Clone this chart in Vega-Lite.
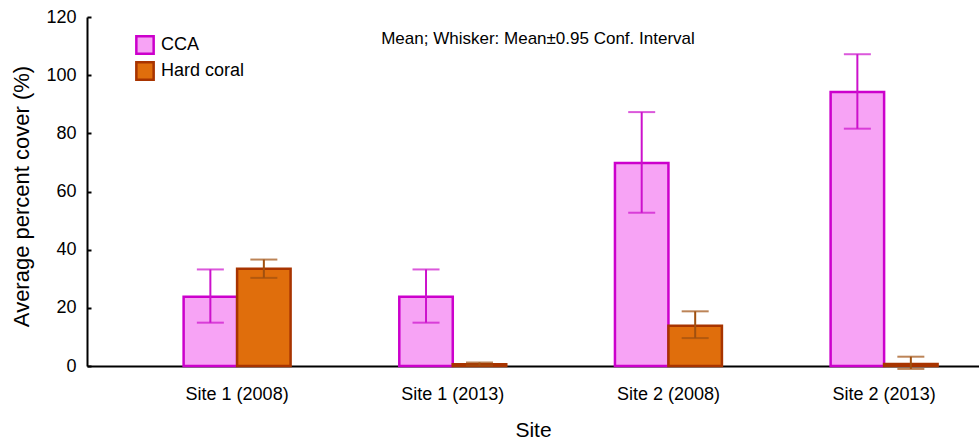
{
  "$schema": "https://vega.github.io/schema/vega-lite/v6.json",
  "width": 892,
  "height": 349,
  "autosize": "none",
  "padding": {"left": 87, "top": 17, "right": 0, "bottom": 75},
  "background": "white",
  "config": {
    "view": {"stroke": null},
    "font": "Liberation Sans",
    "axis": {"grid": false, "domainColor": "black", "domainWidth": 2, "tickColor": "black", "tickWidth": 2, "labelColor": "black", "titleColor": "black", "labelFont": "Liberation Sans", "titleFont": "Liberation Sans"}
  },
  "title": {
    "text": "Mean; Whisker: Mean±0.95 Conf. Interval",
    "orient": "top",
    "anchor": "middle",
    "offset": -40,
    "font": "Liberation Sans",
    "fontSize": 17,
    "fontWeight": "normal",
    "color": "black",
    "dx": 5
  },
  "data": {
    "values": [
      {"site": "Site 1 (2008)", "type": "CCA", "mean": 23.8, "lo": 14.9, "hi": 33.2},
      {"site": "Site 1 (2008)", "type": "Hard coral", "mean": 33.4, "lo": 30.3, "hi": 36.6},
      {"site": "Site 1 (2013)", "type": "CCA", "mean": 23.8, "lo": 14.9, "hi": 33.2},
      {"site": "Site 1 (2013)", "type": "Hard coral", "mean": 0.6, "lo": 0.2, "hi": 1.2},
      {"site": "Site 2 (2008)", "type": "CCA", "mean": 69.8, "lo": 52.7, "hi": 87.3},
      {"site": "Site 2 (2008)", "type": "Hard coral", "mean": 13.8, "lo": 9.6, "hi": 18.8},
      {"site": "Site 2 (2013)", "type": "CCA", "mean": 94.2, "lo": 81.6, "hi": 107.2},
      {"site": "Site 2 (2013)", "type": "Hard coral", "mean": 0.7, "lo": -1.0, "hi": 3.2}
    ]
  },
  "encoding": {
    "x": {
      "field": "site",
      "type": "nominal",
      "sort": null,
      "scale": {"paddingInner": 0.504, "paddingOuter": 0.32, "align": 0.7},
      "axis": {"title": "Site", "labelAngle": 0, "ticks": false, "labelPadding": 19, "labelFontSize": 18, "titleFontSize": 21, "titleFontWeight": "normal", "titlePadding": 16}
    },
    "xOffset": {"field": "type", "type": "nominal", "scale": {"paddingInner": 0, "paddingOuter": 0}}
  },
  "layer": [
    {
      "mark": {"type": "bar", "strokeWidth": 2.5},
      "encoding": {
        "y": {
          "field": "mean",
          "type": "quantitative",
          "scale": {"domain": [0, 120], "nice": false},
          "axis": {"title": "Average percent cover (%)", "values": [0, 20, 40, 60, 80, 100, 120], "tickSize": -4, "labelPadding": 15, "labelFontSize": 18, "titleFontSize": 22, "titleFontWeight": "normal", "titlePadding": 12, "titleY": 179}
        },
        "fill": {
          "field": "type",
          "type": "nominal",
          "scale": {"domain": ["CCA", "Hard coral"], "range": ["#f7a3f5", "#e06e0c"]},
          "legend": {"title": null, "orient": "none", "legendX": 48, "legendY": 18, "symbolType": "square", "symbolSize": 300, "symbolStrokeWidth": 2.5, "labelFontSize": 18, "labelFont": "Liberation Sans", "labelColor": "black", "rowPadding": -2, "labelOffset": 6, "symbolOpacity": 1}
        },
        "stroke": {
          "field": "type",
          "type": "nominal",
          "scale": {"domain": ["CCA", "Hard coral"], "range": ["#cc00cc", "#a83400"]},
          "legend": {"title": null, "orient": "none", "legendX": 48, "legendY": 18, "symbolType": "square", "symbolSize": 300, "symbolStrokeWidth": 2.5, "labelFontSize": 18, "labelFont": "Liberation Sans", "labelColor": "black", "rowPadding": -2, "labelOffset": 6}
        }
      }
    },
    {
      "mark": {"type": "rule", "strokeWidth": 2},
      "encoding": {
        "y": {"field": "lo", "type": "quantitative"},
        "y2": {"field": "hi"},
        "color": {"field": "type", "type": "nominal", "scale": {"domain": ["CCA", "Hard coral"], "range": ["#cc11cc", "#a0500f"]}, "legend": null}
      }
    },
    {
      "mark": {"type": "tick", "orient": "horizontal", "size": 27, "thickness": 2},
      "encoding": {
        "y": {"field": "lo", "type": "quantitative"},
        "color": {"field": "type", "type": "nominal", "scale": {"domain": ["CCA", "Hard coral"], "range": ["#cc11cc", "#a0500f"]}, "legend": null}
      }
    },
    {
      "mark": {"type": "tick", "orient": "horizontal", "size": 27, "thickness": 2},
      "encoding": {
        "y": {"field": "hi", "type": "quantitative"},
        "color": {"field": "type", "type": "nominal", "scale": {"domain": ["CCA", "Hard coral"], "range": ["#cc11cc", "#a0500f"]}, "legend": null}
      }
    }
  ],
  "resolve": {"scale": {"color": "independent"}}
}
